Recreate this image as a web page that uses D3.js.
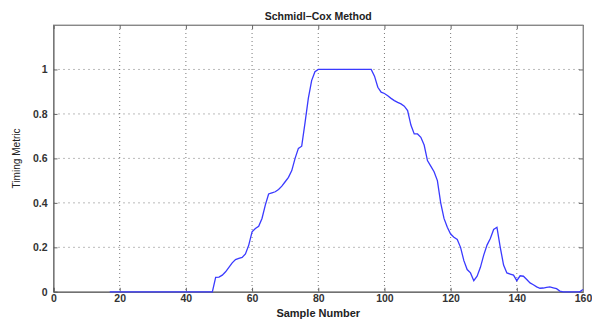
<!DOCTYPE html>
<html><head><meta charset="utf-8">
<script src="https://cdn.jsdelivr.net/npm/d3@7"></script>
<style>
body{margin:0;background:#fff;}
svg text{font-family:"Liberation Sans",Arial,Helvetica,sans-serif;}
</style></head>
<body><svg id="c" width="592" height="320"></svg>
<script>
const title = "Schmidl\u2212Cox Method";
const xLabel = "Sample Number";
const yLabel = "Timing Metric";
const xTicks = [0,20,40,60,80,100,120,140,160];
const yTicks = [0,0.2,0.4,0.6,0.8,1];
const samples = d3.range(17,161);
const metric = [
 0,0,0,0,0,0,0,0,0,0,            // 17-26
 0,0,0,0,0,0,0,0,0,0,            // 27-36
 0,0,0,0,0,0,0,0,0,0,0,0,        // 37-48
 0.065,0.066,0.075,0.09,0.11,0.13,0.145,0.15,0.155,0.17,   // 49-58
 0.21,0.27,0.285,0.295,0.33,0.39,0.44,0.445,0.45,0.46,     // 59-68
 0.475,0.495,0.515,0.545,0.6,0.645,0.655,0.76,0.87,0.95,   // 69-78
 0.99,1,1,1,1,1,1,1,1,1,                                   // 79-88
 1,1,1,1,1,1,1,1,0.97,0.92,                                // 89-98
 0.898,0.892,0.882,0.87,0.86,0.852,0.845,0.835,0.815,0.75, // 99-108
 0.71,0.71,0.695,0.66,0.59,0.565,0.54,0.5,0.40,0.33,       // 109-118
 0.29,0.26,0.245,0.235,0.2,0.14,0.1,0.085,0.05,0.07,       // 119-128
 0.11,0.165,0.21,0.24,0.28,0.29,0.2,0.12,0.085,0.08,       // 129-138
 0.075,0.05,0.072,0.07,0.055,0.04,0.032,0.022,0.016,0.017, // 139-148
 0.02,0.022,0.018,0.014,0.003,0,0,0,0,0,                   // 149-158
 0,0.01                                                    // 159-160
];
const data = samples.map((s,i)=>({x:s,y:metric[i]}));

const svg = d3.select("#c");
const L=53.5, R=583, T=25, B=291.8;
const x = d3.scaleLinear().domain([0,160]).range([L,R]);
const y = d3.scaleLinear().domain([0,1.2]).range([B,T]);

// grid
const g = svg.append("g");
g.selectAll(".vg").data(xTicks.filter(d=>d>0&&d<160)).enter().append("line")
 .attr("x1",d=>x(d)).attr("x2",d=>x(d)).attr("y1",T).attr("y2",B)
 .attr("stroke","#555").attr("stroke-width",0.8).attr("stroke-dasharray","1,3");
g.selectAll(".hg").data(yTicks.filter(d=>d>0)).enter().append("line")
 .attr("x1",L).attr("x2",R).attr("y1",d=>y(d)).attr("y2",d=>y(d))
 .attr("stroke","#555").attr("stroke-width",0.8).attr("stroke-dasharray","1,4");

// box
svg.append("rect").attr("x",L).attr("y",T).attr("width",R-L).attr("height",B-T)
 .attr("fill","none").attr("stroke","#999").attr("stroke-width",1);

// axes
const xa = svg.append("g").attr("transform",`translate(0,${B})`)
 .call(d3.axisBottom(x).tickValues(xTicks).tickSize(-4).tickPadding(3).tickFormat(d3.format("d")));
const ya = svg.append("g").attr("transform",`translate(${L},0)`)
 .call(d3.axisLeft(y).tickValues(yTicks).tickSize(-4).tickPadding(6).tickFormat(d=>d===0||d===1?d3.format("d")(d):d3.format(".1f")(d)));
svg.append("g").attr("transform",`translate(0,${T})`)
 .call(d3.axisTop(x).tickValues(xTicks).tickSize(-4).tickFormat(""));
svg.append("g").attr("transform",`translate(${R},0)`)
 .call(d3.axisRight(y).tickValues(yTicks).tickSize(-4).tickFormat(""));
svg.selectAll(".domain").attr("stroke","#888");
svg.selectAll(".tick line").attr("stroke","#666");
[xa,ya].forEach(a=>a.selectAll("text").attr("font-size","10.5px").attr("font-weight","bold").attr("fill","#333"));
xa.select(".domain").attr("stroke","#555");
ya.select(".domain").attr("stroke","#555");

// line
svg.append("path").datum(data)
 .attr("fill","none").attr("stroke","#3a3aff").attr("stroke-width",1.3)
 .attr("d",d3.line().x(d=>x(d.x)).y(d=>y(d.y)));

// labels
svg.append("text").attr("x",(L+R)/2).attr("y",20).attr("text-anchor","middle")
 .attr("font-size","10.5px").attr("font-weight","bold").attr("fill","#222").text(title);
svg.append("text").attr("x",(L+R)/2).attr("y",317).attr("text-anchor","middle")
 .attr("font-size","11px").attr("font-weight","bold").attr("fill","#222").text(xLabel);
svg.append("text").attr("transform",`translate(20,${(T+B)/2}) rotate(-90)`).attr("text-anchor","middle")
 .attr("font-size","10.5px").attr("fill","#222").attr("textLength",60).attr("lengthAdjust","spacingAndGlyphs").text(yLabel);
</script></body></html>
